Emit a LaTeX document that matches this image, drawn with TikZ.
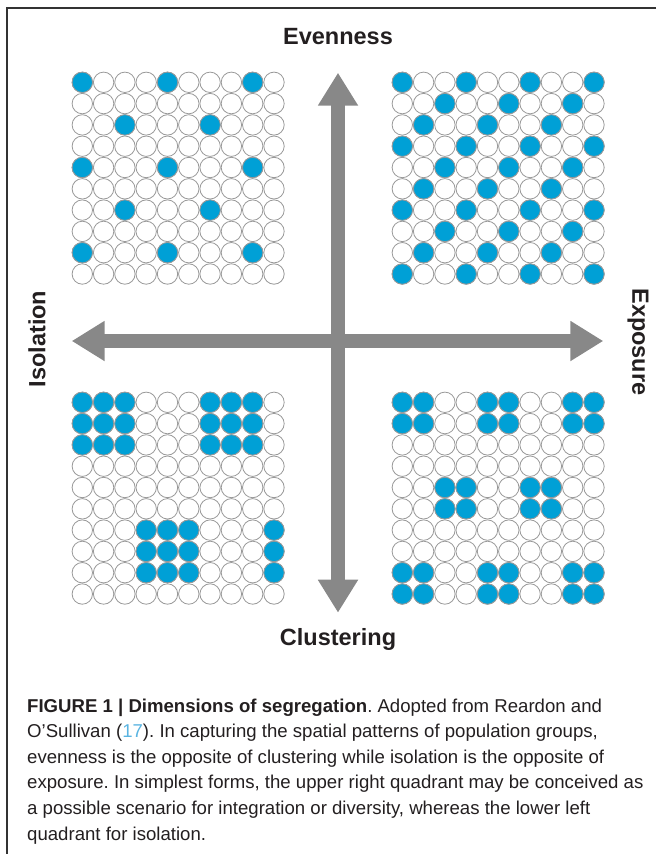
\documentclass[tikz,border=0pt]{standalone}
\usepackage{fontspec}
\setmainfont{Liberation Sans}
\usetikzlibrary{arrows.meta}
\definecolor{dotblue}{RGB}{0,160,214}
\definecolor{axisgray}{RGB}{136,136,136}
\definecolor{linkblue}{RGB}{90,180,225}
\definecolor{inkblack}{RGB}{35,31,32}
\frenchspacing
\begin{document}
\begin{tikzpicture}[x=1pt, y=-1pt,
  cell/.style={circle,draw=black!40,line width=0.8pt,fill=white,minimum size=20.4pt,inner sep=0pt},
  blue dot/.style={draw=black!40,line width=0.8pt,fill=dotblue},
  axis/.style={draw=axisgray,line width=14pt,{Triangle[length=33pt,width=38pt]}-{Triangle[length=33pt,width=38pt]}},
  dim label/.style={font=\bfseries\fontsize{23.5}{28}\selectfont,text=inkblack,inner sep=0pt},
  caption line/.style={anchor=base west,inner sep=0pt,font=\fontsize{18.6}{25.6}\selectfont,text=inkblack}]
\useasboundingbox (0,0) rectangle (656,854);
\draw[line width=1.5pt,black!80] (656,8) -- (7,8) -- (7,854);

% four grids of empty cells
\foreach \q/\x/\y in {tl/82.3/82.3, tr/402.3/82.3, bl/82.3/402.3, br/402.3/402.3}
  \foreach \r in {0,...,9}
    \foreach \c in {0,...,9}
      \node[cell] (\q-\r-\c) at (\x+21.3*\c, \y+21.3*\r) {};

% upper left: even, isolated
\foreach \r/\c in {0/0,0/4,0/8,2/2,2/6,4/0,4/4,4/8,6/2,6/6,8/0,8/4,8/8}
  \draw[blue dot] (tl-\r-\c) circle[radius=10.2pt];
% upper right: even, exposed
\foreach \r in {0,...,9}
  \foreach \c in {0,...,9}{
    \pgfmathtruncatemacro\m{mod(\r+\c,3)}
    \ifnum\m=0 \draw[blue dot] (tr-\r-\c) circle[radius=10.2pt]; \fi
  }
% lower left: clustered, isolated
\foreach \r in {0,1,2}
  \foreach \c in {0,1,2,6,7,8}
    \draw[blue dot] (bl-\r-\c) circle[radius=10.2pt];
\foreach \r in {6,7,8}
  \foreach \c in {3,4,5,9}
    \draw[blue dot] (bl-\r-\c) circle[radius=10.2pt];
% lower right: clustered, exposed
\foreach \r in {0,1,8,9}
  \foreach \c in {0,1,4,5,8,9}
    \draw[blue dot] (br-\r-\c) circle[radius=10.2pt];
\foreach \r in {4,5}
  \foreach \c in {2,3,6,7}
    \draw[blue dot] (br-\r-\c) circle[radius=10.2pt];

% axes
\coordinate (north) at (338,72.7);
\coordinate (south) at (338,612.7);
\coordinate (west) at (71.7,341);
\coordinate (east) at (603.3,341);
\path (west) edge[axis] (east)
      (north) edge[axis] (south);

\node[dim label] (even) at (338,37) {Evenness};
\node[dim label] (clus) at (338,639) {Clustering};
\node[dim label,rotate=90] (iso) at (37,339) {Isolation};
\node[dim label,rotate=-90] (expo) at (638,342) {Exposure};

% caption
\node[caption line] (cap1) at (27,712) {\textbf{FIGURE 1 | Dimensions of segregation}. Adopted from Reardon and};
\node[caption line] (cap2) at (27,737.6) {O’Sullivan ({\color{linkblue}17}). In capturing the spatial patterns of population groups,};
\node[caption line] (cap3) at (27,763.2) {evenness is the opposite of clustering while isolation is the opposite of};
\node[caption line] (cap4) at (27,788.8) {exposure. In simplest forms, the upper right quadrant may be conceived as};
\node[caption line] (cap5) at (27,814.4) {a possible scenario for integration or diversity, whereas the lower left};
\node[caption line] (cap6) at (27,840) {quadrant for isolation.};
\end{tikzpicture}
\end{document}
